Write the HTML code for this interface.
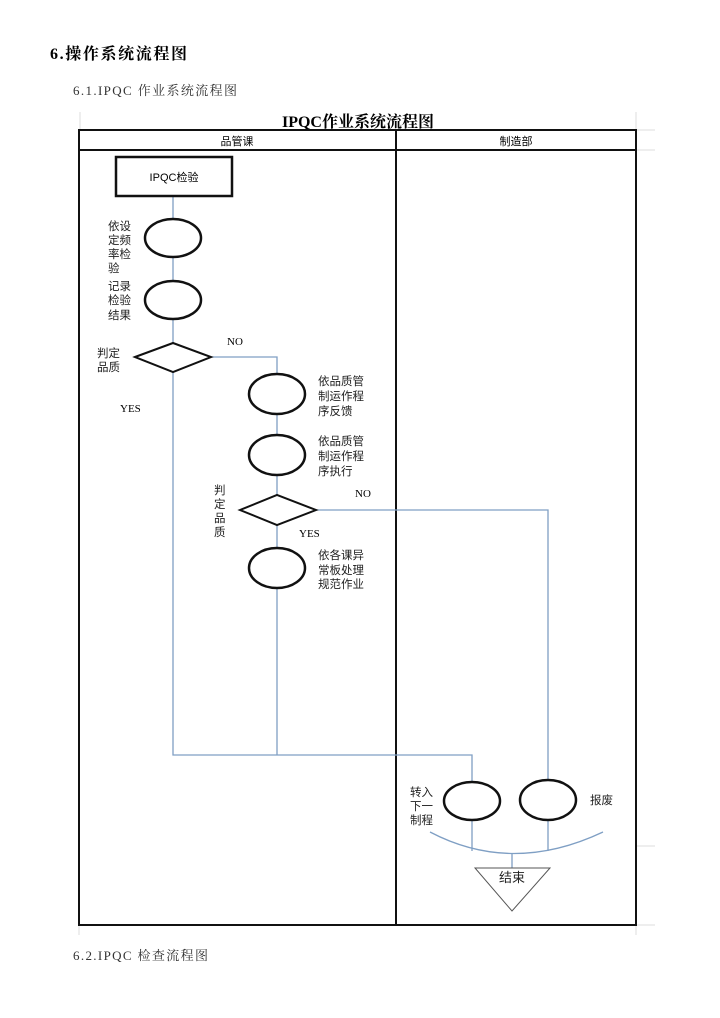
<!DOCTYPE html>
<html><head><meta charset="utf-8"><style>
body{margin:0;background:#fff;width:720px;height:1018px;overflow:hidden}
svg{position:absolute;left:0;top:0}
</style></head><body>
<svg width="720" height="1018" viewBox="0 0 720 1018" font-family="'Liberation Sans','Noto Sans CJK SC',sans-serif">
<text x="50" y="59" font-size="16" font-weight="bold" textLength="137" font-family="'Liberation Serif','Noto Serif CJK SC',serif">6.操作系统流程图</text>
<text x="73" y="95" font-size="13" fill="#333" textLength="164" font-family="'Liberation Serif','Noto Serif CJK SC',serif">6.1.IPQC 作业系统流程图</text>
<text x="73" y="960" font-size="13" fill="#333" textLength="135" font-family="'Liberation Serif','Noto Serif CJK SC',serif">6.2.IPQC 检查流程图</text>
<g stroke="#ddd" stroke-width="1">
<line x1="80" y1="112" x2="80" y2="130"/><line x1="636" y1="112" x2="636" y2="130"/>
<line x1="636" y1="130" x2="655" y2="130"/><line x1="636" y1="150" x2="655" y2="150"/>
<line x1="636" y1="846" x2="655" y2="846"/><line x1="636" y1="925" x2="655" y2="925"/>
<line x1="79" y1="925" x2="79" y2="935"/><line x1="636" y1="925" x2="636" y2="935"/>
</g>
<text x="358" y="127" font-size="16" font-weight="bold" text-anchor="middle" font-family="'Liberation Serif','Noto Serif CJK SC',serif">IPQC作业系统流程图</text>
<g fill="none" stroke="#111" stroke-width="2">
<rect x="79" y="130" width="557" height="795"/>
<line x1="79" y1="150" x2="636" y2="150"/>
<line x1="396" y1="130" x2="396" y2="925"/>
</g>
<text x="237" y="145" font-size="11" text-anchor="middle">品管课</text>
<text x="516" y="145" font-size="11" text-anchor="middle">制造部</text>
<g fill="none" stroke="#7f9fc4" stroke-width="1.3">
<polyline points="173,196 173,755 472,755 472,785"/>
<polyline points="211,357 277,357 277,755"/>
<polyline points="316,510 548,510 548,782"/>
<line x1="472" y1="820" x2="472" y2="851"/>
<line x1="548" y1="819" x2="548" y2="851"/>
<line x1="512" y1="853" x2="512" y2="868"/>
<path d="M430,832 Q512,875 603,832"/>
</g>
<rect x="116" y="157" width="116" height="39" fill="#fff" stroke="#111" stroke-width="2.5"/>
<text x="174" y="181" font-size="11" text-anchor="middle">IPQC检验</text>
<g fill="#fff" stroke="#111" stroke-width="2.5">
<ellipse cx="173" cy="238" rx="28" ry="19"/>
<ellipse cx="173" cy="300" rx="28" ry="19"/>
<ellipse cx="277" cy="394" rx="28" ry="20"/>
<ellipse cx="277" cy="455" rx="28" ry="20"/>
<ellipse cx="277" cy="568" rx="28" ry="20"/>
<ellipse cx="472" cy="801" rx="28" ry="19"/>
<ellipse cx="548" cy="800" rx="28" ry="20"/>
</g>
<g fill="#fff" stroke="#111" stroke-width="2">
<polygon points="135,357 173,343 211,357 173,372"/>
<polygon points="240,510 277,495 316,510 277,525"/>
</g>
<polygon points="475,868 550,868 512,911" fill="#fff" stroke="#555" stroke-width="1"/>
<g font-size="11.5" fill="#222">
<text x="108" y="230">依设</text><text x="108" y="244">定频</text><text x="108" y="258">率检</text><text x="108" y="272">验</text>
<text x="108" y="290">记录</text><text x="108" y="304">检验</text><text x="108" y="319">结果</text>
<text x="97" y="357">判定</text><text x="97" y="371">品质</text>
<text x="318" y="385">依品质管</text><text x="318" y="400">制运作程</text><text x="318" y="415">序反馈</text>
<text x="318" y="445">依品质管</text><text x="318" y="460">制运作程</text><text x="318" y="475">序执行</text>
<text x="214" y="494">判</text><text x="214" y="508">定</text><text x="214" y="522">品</text><text x="214" y="536">质</text>
<text x="318" y="559">依各课异</text><text x="318" y="574">常板处理</text><text x="318" y="588">规范作业</text>
<text x="410" y="796">转入</text><text x="410" y="810">下一</text><text x="410" y="824">制程</text>
<text x="590" y="804">报废</text>
<text x="512" y="882" font-size="13" text-anchor="middle">结束</text>
</g>
<g font-size="11" font-family="'Liberation Serif',serif">
<text x="227" y="345">NO</text>
<text x="120" y="412">YES</text>
<text x="355" y="497">NO</text>
<text x="299" y="537">YES</text>
</g>
</svg>
</body></html>
